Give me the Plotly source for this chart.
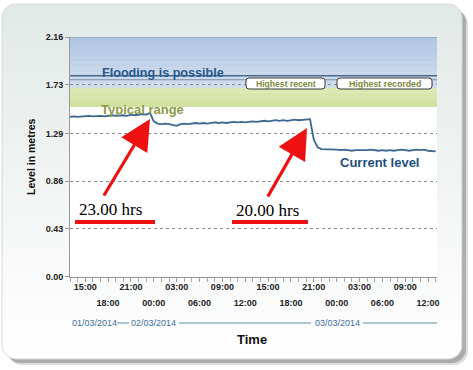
import numpy as np
import pandas as pd
import plotly.graph_objects as go

W, H = 473, 370
FONT = "Liberation Sans"

# ---------------- data ----------------
times = pd.date_range("2014-03-01 13:00", "2014-03-03 13:00", freq="30min")
levels_0103 = [1.440, 1.445, 1.440, 1.445, 1.445, 1.450, 1.445, 1.450, 1.450, 1.445,
               1.450, 1.455, 1.450, 1.455, 1.455, 1.450, 1.460, 1.455, 1.460, 1.465,
               1.460, 1.475]
levels_0203 = [1.400, 1.380, 1.375, 1.380, 1.375, 1.370, 1.360, 1.375, 1.380, 1.375,
               1.380, 1.385, 1.380, 1.385, 1.380, 1.385, 1.390, 1.385, 1.390, 1.385,
               1.390, 1.395, 1.390, 1.395, 1.390, 1.395, 1.400, 1.395, 1.400, 1.405,
               1.400, 1.405, 1.410, 1.405, 1.410, 1.405, 1.410, 1.415, 1.410, 1.415,
               1.415, 1.420, 1.235, 1.165, 1.150, 1.150, 1.145, 1.150]
levels_0303 = [1.145, 1.140, 1.145, 1.140, 1.135, 1.140, 1.140, 1.135, 1.140, 1.145,
               1.140, 1.135, 1.140, 1.135, 1.140, 1.135, 1.140, 1.145, 1.140, 1.135,
               1.140, 1.145, 1.140, 1.145, 1.135, 1.130, 1.130]
levels = levels_0103 + levels_0203 + levels_0303

y_ticks = [0.00, 0.43, 0.86, 1.29, 1.73, 2.16]
flood_band = (1.70, 2.16)
typical_band = (1.53, 1.70)
highest_recent = 1.81
highest_recorded = 1.775
x_start, x_end = "2014-03-01 13:00", "2014-03-03 13:10"
date_labels = ["01/03/2014", "02/03/2014", "03/03/2014"]


def P(y):  # pixel-from-top -> canvas y
    return H - y


def rrect(x0, y0, x1, y1, r, n=10):
    pts = []
    for cx, cy, a0, a1 in [(x1 - r, y0 + r, -90, 0), (x1 - r, y1 - r, 0, 90),
                           (x0 + r, y1 - r, 90, 180), (x0 + r, y0 + r, 180, 270)]:
        for a in np.linspace(a0, a1, n):
            t = np.radians(a)
            pts.append((cx + r * np.cos(t), cy + r * np.sin(t)))
    pts.append(pts[0])
    return [p[0] for p in pts], [P(p[1]) for p in pts]


def rpath(x0, y0, x1, y1, r):
    a, b = P(y0), P(y1)
    return (f"M{x0+r},{a} L{x1-r},{a} Q{x1},{a} {x1},{a-r} L{x1},{b+r} Q{x1},{b} {x1-r},{b} "
            f"L{x0+r},{b} Q{x0},{b} {x0},{b+r} L{x0},{a-r} Q{x0},{a} {x0+r},{a} Z")


fig = go.Figure()

# frame shadow + frame
for off, col in [(6, "rgba(60,60,60,0.18)"), (4, "rgba(60,60,60,0.30)")]:
    xs, ys = rrect(2 + off, 4 + off, 462 + off, 359 + off, 14)
    fig.add_trace(go.Scatter(x=xs, y=ys, mode="lines", fill="toself", fillcolor=col,
                             line=dict(width=0), hoverinfo="skip", showlegend=False))
xs, ys = rrect(2, 4, 462, 359, 14)
fig.add_trace(go.Scatter(x=xs, y=ys, mode="lines", fill="toself",
                         fillgradient=dict(type="vertical",
                                           colorscale=[[0, "#ffffff"], [0.35, "#f6f8f7"], [1, "#e1e9e6"]]),
                         line=dict(width=1, color="#d5dbd9"), hoverinfo="skip", showlegend=False))

# main series
fig.add_trace(go.Scatter(x=times, y=levels, mode="lines", xaxis="x2", yaxis="y2",
                         line=dict(color="#3b6790", width=1.8), showlegend=False))
fig.add_trace(go.Scatter(x=[x_start], y=[None], xaxis="x3", yaxis="y2", showlegend=False))

shapes = []
# white plot area
shapes.append(dict(type="rect", xref="x2", yref="y2", x0=x_start, x1=x_end, y0=0, y1=2.16,
                   fillcolor="white", line=dict(width=0), layer="below"))


def mix(c1, c2, t):
    c1 = [int(c1[i:i + 2], 16) for i in (1, 3, 5)]
    c2 = [int(c2[i:i + 2], 16) for i in (1, 3, 5)]
    return "rgb(%d,%d,%d)" % tuple(round(a + (b - a) * t) for a, b in zip(c1, c2))


def band(lo, hi, ctop, cbot, n):
    edges = np.linspace(lo, hi, n + 1)
    for i in range(n):
        shapes.append(dict(type="rect", xref="x2", yref="y2", x0=x_start, x1=x_end,
                           y0=edges[i], y1=edges[i + 1] + 0.002,
                           fillcolor=mix(cbot, ctop, (i + 0.5) / n), line=dict(width=0), layer="below"))


band(*flood_band, "#b0c5e2", "#d0ddef", 10)
band(*typical_band, "#dde9b6", "#cfe09c", 4)

shapes.append(dict(type="line", xref="x2", yref="y2", x0=x_start, x1=x_end,
                   y0=highest_recent, y1=highest_recent, line=dict(color="#4d6a88", width=1.5)))
shapes.append(dict(type="line", xref="x2", yref="y2", x0=x_start, x1=x_end,
                   y0=highest_recorded, y1=highest_recorded, line=dict(color="#7d93ad", width=1)))
shapes.append(dict(type="line", xref="x2", yref="y2", x0=x_start, x1=x_end,
                   y0=2.16, y1=2.16, line=dict(color="#7f93ab", width=1)))

# labelled boxes
for (x0, x1) in [(246, 325), (337, 432)]:
    shapes.append(dict(type="path", xref="x", yref="y", path=rpath(x0, 78, x1, 89, 3),
                       fillcolor="white", line=dict(color="#3a3a3a", width=1), layer="above"))

# red underlines
for (x0, x1) in [(75, 155), (232, 308)]:
    shapes.append(dict(type="line", xref="x", yref="y", x0=x0, x1=x1, y0=P(222), y1=P(222),
                       line=dict(color="#ee1111", width=4), layer="above"))

# date row lines
for (x0, x1) in [(117, 129), (179, 311), (363, 437)]:
    shapes.append(dict(type="line", xref="x", yref="y", x0=x0, x1=x1, y0=P(323), y1=P(323),
                       line=dict(color="#5b8fa0", width=1), layer="above"))

ann = []


def txt(x, y, s, size, color, bold=False, family=FONT, angle=0):
    ann.append(dict(x=x, y=P(y), xref="x", yref="y", text=s, showarrow=False, textangle=angle,
                    font=dict(family=family, size=size, color=color, weight="bold" if bold else "normal"),
                    xanchor="center", yanchor="middle"))


txt(162.5, 73, "Flooding is possible", 12.6, "#2c5a8c", True)
txt(142, 109, "Typical range", 13, "#8b9a45", True)
txt(379.5, 162, "Current level", 13, "#1f4f7f", True)
txt(285.5, 83.5, "Highest recent", 8.6, "#7c8a3c", True)
txt(384.5, 83.5, "Highest recorded", 8.8, "#7c8a3c", True)
txt(110, 209, "23.00 hrs", 17, "#000000", False, "Liberation Serif")
txt(267, 210, "20.00 hrs", 17, "#000000", False, "Liberation Serif")
txt(94, 323, date_labels[0], 9, "#3f6fa0")
txt(153, 323, date_labels[1], 9, "#3f6fa0")
txt(337, 323, date_labels[2], 9, "#3f6fa0")
txt(252, 339, "Time", 13, "#111111", True)
txt(31, 157, "Level in metres", 10.5, "#111111", True, angle=-90)

for (tx, ty, hx, hy) in [(103, 197, 150, 119), (267, 198, 307, 128)]:
    ann.append(dict(x=hx, y=P(hy), xref="x", yref="y", ax=tx, ay=P(ty), axref="x", ayref="y",
                    text="", showarrow=True, arrowhead=2, arrowsize=1.9, arrowwidth=3.2,
                    arrowcolor="#ee1111", standoff=0, startstandoff=0))

tickfont = dict(family=FONT, size=9, color="#222222", weight="bold")
common_x = dict(type="date", range=[x_start, x_end], tickformat="%H:%M", ticks="outside",
                ticklen=4, tickcolor="#999999", showgrid=False, zeroline=False, tickfont=tickfont,
                dtick=6 * 3600000, automargin=False)

fig.update_layout(
    width=W, height=H, margin=dict(l=0, r=0, t=0, b=0, pad=0, autoexpand=False),
    paper_bgcolor="white", plot_bgcolor="rgba(0,0,0,0)", showlegend=False,
    xaxis=dict(domain=[0, 1], range=[0, W], visible=False, fixedrange=True, automargin=False),
    yaxis=dict(domain=[0, 1], range=[0, H], visible=False, fixedrange=True, automargin=False),
    xaxis2=dict(domain=[70 / W, 437 / W], anchor="y2", tick0="2014-03-01 15:00",
                showline=True, linecolor="#999999", ticklabelstandoff=-3,
                minor=dict(dtick=3600000, tick0=x_start, ticks="outside", ticklen=4, tickcolor="#aaaaaa"),
                **common_x),
    xaxis3=dict(overlaying="x2", anchor="y2", tick0="2014-03-01 18:00", showline=False,
                ticklabelstandoff=13, **common_x),
    yaxis2=dict(domain=[1 - 276.7 / H, 1 - 37 / H], anchor="x2", range=[0, 2.16],
                tickvals=y_ticks, ticktext=[f"{v:.2f}" for v in y_ticks], ticks="outside",
                ticklen=4, tickcolor="#999999", showline=True, linecolor="#999999",
                showgrid=True, gridcolor="#8a8a8a", griddash="dot", gridwidth=1,
                zeroline=False, tickfont=tickfont, automargin=False),
    shapes=shapes, annotations=ann,
)

fig.write_html("out.html", config={"displayModeBar": False},
               post_script="document.body.style.margin='0';document.body.style.overflow='hidden';")
